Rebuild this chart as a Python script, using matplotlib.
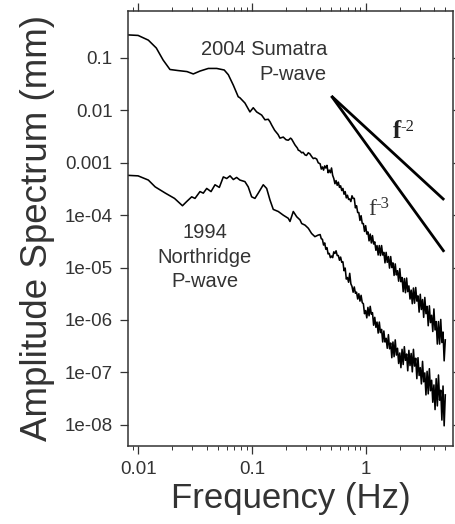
import numpy as np
import matplotlib
matplotlib.use('Agg')
import matplotlib.pyplot as plt
from matplotlib.ticker import LogLocator, NullLocator, NullFormatter

# ---- spectra, stored as log10(frequency Hz) / log10(amplitude mm) ----
# smooth low-frequency parts
sumatra_logf = [-2.09, -2.00, -1.91, -1.84, -1.78, -1.72, -1.65, -1.57, -1.515, -1.456,
                -1.383, -1.309, -1.243, -1.207, -1.163, -1.12, -1.105, -1.061, -1.017, -0.988,
                -0.958, -0.914, -0.885, -0.856, -0.84, -0.826, -0.80, -0.782, -0.77, -0.753,
                -0.724, -0.70, -0.68, -0.66, -0.65, -0.621, -0.60, -0.592, -0.58, -0.562,
                -0.55, -0.533, -0.52, -0.504, -0.49, -0.475, -0.46, -0.446, -0.43, -0.417]
sumatra_loga = [-0.56, -0.57, -0.66, -0.81, -1.04, -1.22, -1.24, -1.26, -1.305, -1.25,
                -1.20, -1.20, -1.23, -1.32, -1.52, -1.74, -1.76, -1.86, -2.03, -1.95,
                -2.03, -2.09, -2.18, -2.17, -2.22, -2.28, -2.38, -2.43, -2.46, -2.53,
                -2.51, -2.56, -2.57, -2.53, -2.55, -2.66, -2.72, -2.76, -2.77, -2.81,
                -2.80, -2.85, -2.86, -2.81, -2.83, -2.88, -2.92, -2.91, -2.93, -3.00]

north_logf = [-2.09, -2.00, -1.91, -1.85, -1.76, -1.68, -1.61, -1.573, -1.529, -1.50,
              -1.456, -1.427, -1.397, -1.359, -1.324, -1.286, -1.251, -1.221, -1.192, -1.163,
              -1.134, -1.105, -1.061, -1.032, -1.002, -0.973, -0.944, -0.90, -0.87, -0.841,
              -0.812, -0.768, -0.724, -0.68, -0.665, -0.636, -0.606, -0.577, -0.562, -0.533,
              -0.504, -0.475, -0.446, -0.417]
north_loga = [-3.24, -3.25, -3.33, -3.46, -3.58, -3.68, -3.82, -3.74, -3.65, -3.68,
              -3.55, -3.58, -3.49, -3.55, -3.42, -3.47, -3.27, -3.30, -3.25, -3.32,
              -3.28, -3.33, -3.36, -3.46, -3.65, -3.68, -3.58, -3.42, -3.49, -3.71,
              -3.89, -3.93, -4.00, -4.06, -4.12, -3.93, -4.03, -4.09, -4.16, -4.19,
              -4.25, -4.35, -4.41, -4.38]

# noisy high-frequency parts, both records sampled on the same grid
tail_logf = [-0.40, -0.39, -0.38, -0.37, -0.36, -0.35, -0.34, -0.33, -0.32, -0.31,
             -0.30, -0.29, -0.28, -0.27, -0.26, -0.25, -0.24, -0.23, -0.22, -0.21,
             -0.20, -0.19, -0.18, -0.17, -0.16, -0.15, -0.14, -0.13, -0.12, -0.11,
             -0.10, -0.09, -0.08, -0.07, -0.06, -0.05, -0.04, -0.03, -0.02, -0.01,
             0.00, 0.01, 0.02, 0.03, 0.04, 0.05, 0.06, 0.07, 0.08, 0.09,
             0.10, 0.11, 0.12, 0.13, 0.14, 0.15, 0.16, 0.17, 0.18, 0.19,
             0.20, 0.21, 0.22, 0.23, 0.24, 0.25, 0.26, 0.27, 0.28, 0.29,
             0.30, 0.31, 0.32, 0.33, 0.34, 0.35, 0.36, 0.37, 0.38, 0.39,
             0.40, 0.41, 0.42, 0.43, 0.44, 0.45, 0.46, 0.47, 0.48, 0.49,
             0.50, 0.51, 0.52, 0.53, 0.54, 0.55, 0.56, 0.57, 0.58, 0.59,
             0.60, 0.61, 0.62, 0.63, 0.64, 0.65, 0.66, 0.67, 0.68, 0.69,
             0.70]
sumatra_tail = [-3.02, -3.12, -3.08, -3.14, -3.06, -3.10, -3.05, -3.19, -3.14, -3.19,
                -3.10, -3.24, -3.30, -3.40, -3.34, -3.43, -3.37, -3.47, -3.44, -3.53,
                -3.49, -3.60, -3.55, -3.67, -3.62, -3.70, -3.69, -3.74, -3.63, -3.68,
                -3.68, -3.86, -3.82, -3.95, -3.95, -4.10, -4.01, -4.16, -4.16, -4.31,
                -4.20, -4.36, -4.32, -4.49, -4.36, -4.53, -4.39, -4.55, -4.51, -4.67,
                -4.58, -4.76, -4.58, -4.77, -4.58, -4.76, -4.71, -4.91, -4.71, -4.90,
                -4.79, -5.01, -4.79, -5.00, -4.91, -5.15, -4.93, -5.14, -5.06, -5.26,
                -5.02, -5.27, -5.19, -5.46, -5.21, -5.48, -5.20, -5.46, -5.35, -5.60,
                -5.43, -5.69, -5.39, -5.68, -5.38, -5.64, -5.54, -5.85, -5.51, -5.80,
                -5.61, -5.95, -5.57, -5.88, -5.74, -6.11, -5.73, -6.05, -5.91, -6.22,
                -5.79, -6.19, -6.03, -6.46, -6.03, -6.46, -5.99, -6.43, -6.23, -6.78,
                -6.38]
north_tail = [-4.37, -4.45, -4.46, -4.57, -4.53, -4.65, -4.62, -4.74, -4.73, -4.81,
              -4.78, -4.81, -4.70, -4.73, -4.68, -4.77, -4.77, -4.86, -4.80, -4.90,
              -4.89, -5.06, -5.01, -5.22, -5.19, -5.28, -5.11, -5.31, -5.36, -5.47,
              -5.37, -5.49, -5.47, -5.60, -5.50, -5.64, -5.53, -5.67, -5.69, -5.88,
              -5.82, -5.96, -5.76, -5.92, -5.74, -5.89, -5.86, -6.10, -5.95, -6.14,
              -6.04, -6.25, -6.04, -6.24, -6.18, -6.42, -6.21, -6.42, -6.35, -6.54,
              -6.28, -6.55, -6.44, -6.72, -6.42, -6.70, -6.38, -6.67, -6.54, -6.83,
              -6.63, -6.91, -6.56, -6.85, -6.51, -6.77, -6.65, -6.97, -6.58, -6.87,
              -6.64, -6.99, -6.56, -6.88, -6.73, -7.12, -6.72, -7.06, -6.91, -7.22,
              -6.79, -7.18, -7.01, -7.43, -6.98, -7.41, -6.93, -7.35, -7.15, -7.57,
              -7.24, -7.71, -7.12, -7.64, -7.05, -7.53, -7.34, -7.91, -7.26, -8.02,
              -7.43]

# reference power-law slopes, anchored at 0.5 Hz
slope_f = [0.5, 4.9]
slope_a0 = 0.0188
slope_powers = [-2, -3]

x_ticks = [0.01, 0.1, 1]
x_ticklabels = ['0.01', '0.1', '1']
y_ticks = [1e-1, 1e-2, 1e-3, 1e-4, 1e-5, 1e-6, 1e-7, 1e-8]
y_ticklabels = ['0.1', '0.01', '0.001', '1e-04', '1e-05', '1e-06', '1e-07', '1e-08']

plt.rcParams['font.family'] = ['Liberation Sans', 'DejaVu Sans']

fig = plt.figure(figsize=(4.55, 5.24), dpi=100)
ax = fig.add_axes([0.2813, 0.1489, 0.7136, 0.8302])

sum_f = 10 ** np.array(sumatra_logf + tail_logf)
sum_a = 10 ** np.array(sumatra_loga + sumatra_tail)
nor_f = 10 ** np.array(north_logf + tail_logf)
nor_a = 10 ** np.array(north_loga + north_tail)

ax.plot(sum_f, sum_a, color='black', lw=1.15)
ax.plot(nor_f, nor_a, color='black', lw=1.15)

sf = np.array(slope_f)
for p in slope_powers:
    ax.plot(sf, slope_a0 * (sf / sf[0]) ** p, color='black', lw=2.0,
            solid_capstyle='butt')

ax.set_xscale('log')
ax.set_yscale('log')
ax.set_xlim(0.00815, 5.82)
ax.set_ylim(3.94e-9, 0.789)

ax.set_xticks(x_ticks, x_ticklabels)
ax.xaxis.set_minor_locator(LogLocator(base=10, subs=np.arange(2, 10)))
ax.xaxis.set_minor_formatter(NullFormatter())
ax.set_yticks(y_ticks, y_ticklabels)
ax.yaxis.set_minor_locator(NullLocator())

ax.tick_params(which='both', direction='out', top=True, right=True,
               labeltop=False, labelright=False, color='#333333')
ax.tick_params(which='major', length=6, width=0.9, labelsize=13.5, pad=5,
               labelcolor='#333333')
ax.tick_params(which='minor', length=3, width=0.7)
for s in ax.spines.values():
    s.set_linewidth(1.1)
    s.set_color('#333333')

ax.set_xlabel('Frequency (Hz)', fontsize=25, color='#333333')
ax.xaxis.set_label_coords(0.5, -0.083)
ax.set_ylabel('Amplitude Spectrum (mm)', fontsize=26.5, color='#333333')
ax.yaxis.set_label_coords(-0.225, 0.5)

ax.text(0.457, 0.225, '2004 Sumatra\nP-wave', ha='right', va='top',
        multialignment='right', fontsize=14.5, linespacing=1.4, color='#333333')
ax.text(0.0387, 7.0e-5, '1994\nNorthridge\nP-wave', ha='center', va='top',
        multialignment='center', fontsize=14.5, linespacing=1.35, color='#333333')
ax.text(1.74, 2.97e-3, 'f', ha='left', va='baseline', fontsize=18,
        fontweight='bold', family='Liberation Serif', color='#222222')
ax.text(2.02, 4.1e-3, '-2', ha='left', va='baseline', fontsize=12,
        family='Liberation Serif', color='#222222')
ax.text(1.05, 1.01e-4, 'f', ha='left', va='baseline', fontsize=17,
        family='Liberation Serif', color='#333333')
ax.text(1.22, 1.35e-4, '-3', ha='left', va='baseline', fontsize=12,
        family='Liberation Serif', color='#333333')

fig.savefig('out.png', dpi=100)
